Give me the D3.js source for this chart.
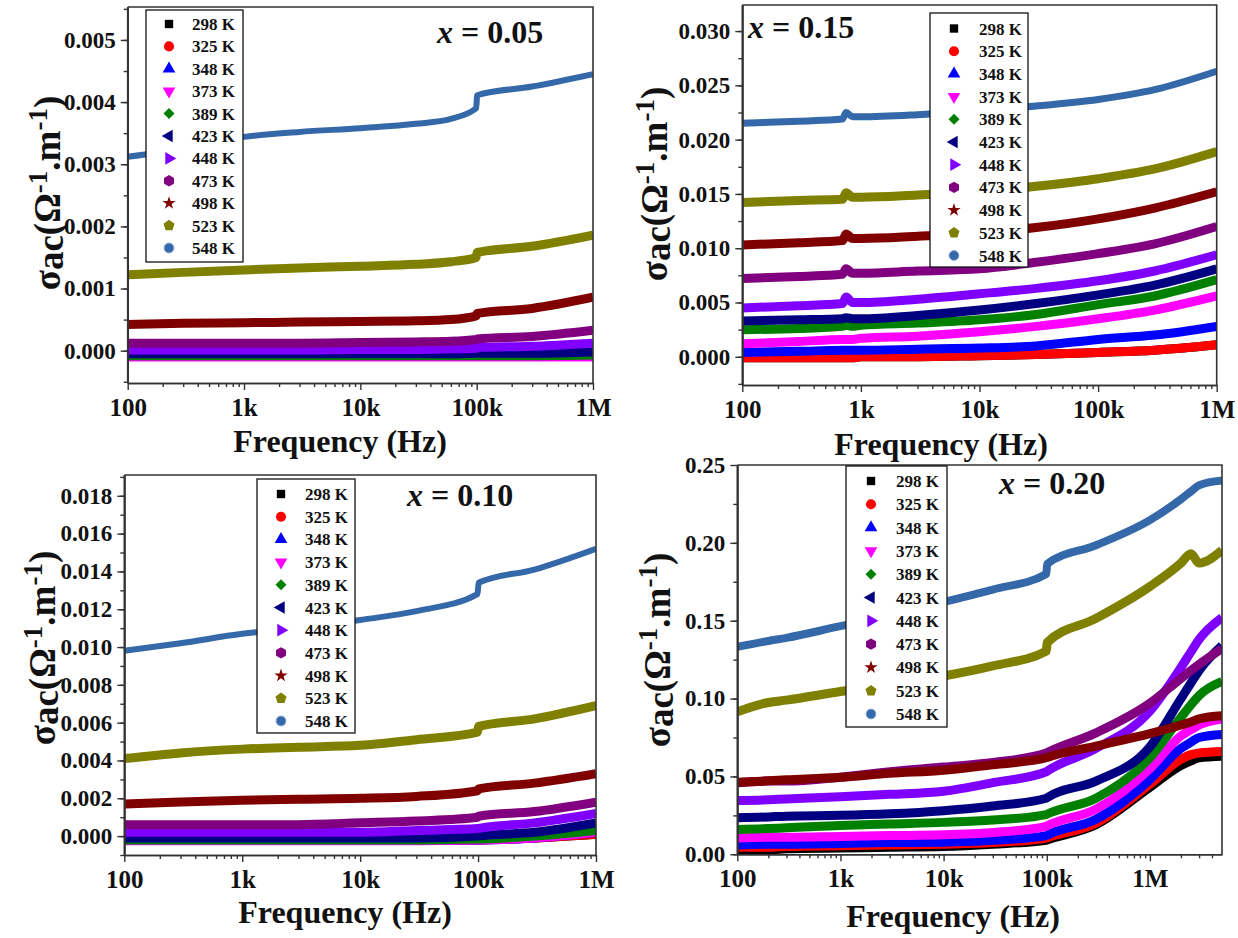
<!DOCTYPE html>
<html><head><meta charset="utf-8">
<script src="https://cdn.jsdelivr.net/npm/d3@7"></script>
<style>
body{margin:0;background:#fff;}
svg{display:block;}
text{font-family:"Liberation Serif","Times New Roman",serif;font-weight:bold;fill:#111;}
</style>
</head><body>
<svg id="c" width="1238" height="938"></svg>
<script>
// ---------- data ----------
const temps = ["298 K","325 K","348 K","373 K","389 K","423 K","448 K","473 K","498 K","523 K","548 K"];
const colors = ["#000000","#ff0000","#0000ff","#ff00ff","#008000","#000080","#8000ff","#800080","#800000","#808000","#3468a8"];
const xTickVals = [1e2,1e3,1e4,1e5,1e6];
const xTickLabels = ["100","1k","10k","100k","1M"];
const yTicksA = [0,0.001,0.002,0.003,0.004,0.005];
const yTicksB = [0,0.005,0.010,0.015,0.020,0.025,0.030];
const yTicksC = [0,0.002,0.004,0.006,0.008,0.010,0.012,0.014,0.016,0.018];
const yTicksD = [0,0.05,0.10,0.15,0.20,0.25];

// x = 0.05
const freqA = [100,300,1000,3000,10000,30000,60000,99000,101000,300000,1000000];
const sigmaA = [
  [-0.00009,-0.00009,-0.00009,-0.00009,-0.00009,-0.00009,-0.00009,-0.00009,-0.00009,-0.00009,-0.00009],
  [-0.00009,-0.00009,-0.00009,-0.00009,-0.00009,-0.00009,-0.00009,-0.00009,-0.00009,-0.00009,-0.00009],
  [-0.00009,-0.00009,-0.00009,-0.00009,-0.00009,-0.00009,-0.00009,-0.00009,-0.00009,-0.00009,-0.00009],
  [-0.0001,-0.0001,-0.0001,-0.0001,-0.0001,-0.0001,-0.0001,-0.0001,-0.0001,-0.0001,-0.0001],
  [-0.00008,-0.00008,-0.00008,-0.00008,-0.00008,-0.00008,-0.00008,-0.00008,-0.00008,-0.00008,-0.00007],
  [-0.00005,-0.00005,-0.00005,-0.00005,-0.00005,-0.00005,-0.00005,-0.00004,-0.00004,-0.00004,-0.00002],
  [0.00001,0.00001,0.00001,0.00001,0.00002,0.00002,0.00003,0.00004,0.00005,0.00007,0.00012],
  [0.00012,0.00012,0.00012,0.00012,0.00013,0.00014,0.00015,0.00018,0.00019,0.00023,0.00033],
  [0.00042,0.00044,0.00045,0.00046,0.00047,0.00048,0.0005,0.00056,0.0006,0.00068,0.00086],
  [0.00122,0.00126,0.0013,0.00133,0.00136,0.00139,0.00143,0.0015,0.00158,0.00168,0.00186],
  [0.00312,0.00325,0.00344,0.00352,0.00358,0.00365,0.00373,0.0039,0.00411,0.00425,0.00445]
];

// x = 0.15
const freqB = [100,300,700,750,850,1000,3000,10000,30000,100000,300000,1000000];
const sigmaB = [
  [-0.0001,-0.0001,-0.0001,-0.0001,-0.0001,0.0,0.0,0.0001,0.0002,0.0004,0.0006,0.0011],
  [-0.0001,-0.0001,-0.0001,-0.0001,-0.0001,0.0,0.0,0.0001,0.0002,0.0004,0.0006,0.0011],
  [0.0004,0.0005,0.0006,0.0006,0.0006,0.0006,0.0007,0.0008,0.0010,0.0016,0.0020,0.0028],
  [0.0012,0.0014,0.0016,0.0016,0.0016,0.0017,0.0019,0.0023,0.0028,0.0035,0.0043,0.0056],
  [0.0025,0.0026,0.0028,0.0029,0.0028,0.0029,0.0031,0.0034,0.0039,0.0048,0.0056,0.0071],
  [0.0033,0.0034,0.0035,0.0036,0.0035,0.0035,0.0038,0.0043,0.0049,0.0057,0.0066,0.0081],
  [0.0045,0.0047,0.0049,0.0055,0.0050,0.0050,0.0053,0.0058,0.0063,0.0070,0.0079,0.0094],
  [0.0072,0.0074,0.0076,0.0081,0.0077,0.0077,0.0079,0.0081,0.0087,0.0095,0.0104,0.0120],
  [0.0103,0.0105,0.0107,0.0113,0.0109,0.0109,0.0111,0.0114,0.0119,0.0127,0.0137,0.0152],
  [0.0142,0.0144,0.0145,0.0151,0.0147,0.0147,0.0149,0.0152,0.0157,0.0164,0.0173,0.0189],
  [0.0215,0.0217,0.0219,0.0225,0.0221,0.0221,0.0223,0.0227,0.0231,0.0237,0.0246,0.0263]
];

// x = 0.10
const freqC = [100,300,1000,3000,10000,30000,99000,101000,300000,1000000];
const sigmaC = [
  [-0.0002,-0.0002,-0.0002,-0.0002,-0.0002,-0.0002,-0.0002,-0.0002,-0.0001,0.0001],
  [-0.0002,-0.0002,-0.0002,-0.0002,-0.0002,-0.0002,-0.0002,-0.0002,-0.0001,0.0001],
  [-0.0002,-0.0002,-0.0002,-0.0002,-0.0002,-0.0002,-0.0002,-0.0002,-0.0001,0.0002],
  [-0.00025,-0.00025,-0.00025,-0.00025,-0.00025,-0.00025,-0.0002,-0.0002,-0.0001,0.0002],
  [-0.0002,-0.0002,-0.0002,-0.0002,-0.0002,-0.0002,-0.00015,-0.00015,0.0,0.0003],
  [-0.0001,-0.0001,-0.0001,-0.0001,-0.0001,-0.0001,0.0,0.00001,0.0002,0.0007],
  [0.0002,0.0002,0.0002,0.0002,0.0002,0.0003,0.0004,0.00041,0.0007,0.0012],
  [0.0006,0.0006,0.0006,0.0006,0.0007,0.0008,0.0010,0.00105,0.0013,0.0018],
  [0.0017,0.0018,0.0019,0.00195,0.0020,0.0021,0.0024,0.0025,0.0028,0.0033],
  [0.0041,0.0044,0.0046,0.0047,0.0048,0.0051,0.0055,0.0058,0.0062,0.0069],
  [0.0098,0.0102,0.0107,0.0110,0.01143,0.0119,0.0128,0.0134,0.0141,0.0152]
];

// x = 0.20
const freqD = [100,200,300,1000,3000,10000,30000,99000,101000,300000,1000000,2000000,2500000,3000000,5000000];
const sigmaD = [
  [0.003,0.003,0.0035,0.004,0.0045,0.005,0.0065,0.009,0.0092,0.019,0.043,0.057,0.060,0.062,0.063],
  [0.0045,0.0045,0.005,0.0055,0.006,0.0065,0.0075,0.0105,0.0107,0.020,0.045,0.061,0.064,0.065,0.066],
  [0.006,0.0065,0.0065,0.007,0.0075,0.0078,0.009,0.012,0.0123,0.0225,0.048,0.068,0.072,0.075,0.077],
  [0.0105,0.011,0.011,0.0115,0.012,0.0125,0.014,0.018,0.0183,0.029,0.055,0.076,0.080,0.083,0.087],
  [0.016,0.0165,0.017,0.0185,0.0195,0.0205,0.022,0.0255,0.0258,0.036,0.062,0.088,0.096,0.102,0.111],
  [0.0235,0.024,0.0245,0.025,0.026,0.028,0.031,0.036,0.0364,0.047,0.069,0.100,0.110,0.118,0.134],
  [0.0345,0.035,0.0355,0.037,0.0385,0.0405,0.046,0.053,0.0534,0.068,0.092,0.120,0.130,0.138,0.152],
  [0.046,0.047,0.047,0.0495,0.053,0.056,0.059,0.065,0.0653,0.078,0.097,0.113,0.118,0.122,0.132],
  [0.0462,0.0472,0.0478,0.0495,0.052,0.054,0.0575,0.062,0.0622,0.0695,0.0775,0.083,0.085,0.087,0.089],
  [0.0915,0.0975,0.099,0.1045,0.109,0.1145,0.121,0.1305,0.136,0.1515,0.172,0.187,0.193,0.187,0.1953],
  [0.1332,0.137,0.139,0.1465,0.153,0.162,0.170,0.180,0.1865,0.1985,0.2146,0.228,0.233,0.237,0.240]
];

// ---------- symbols ----------
function polygon(n, rot){
  return {draw(ctx, size){
    const r = Math.sqrt(size / (n/2*Math.sin(2*Math.PI/n)));
    for(let i=0;i<n;i++){
      const a = rot + i*2*Math.PI/n;
      const x = r*Math.cos(a), y = r*Math.sin(a);
      if(i===0) ctx.moveTo(x,y); else ctx.lineTo(x,y);
    }
    ctx.closePath();
  }};
}
const symDefs = [
  {t:d3.symbolSquare, r:0, s:70},
  {t:d3.symbolCircle, r:0, s:80},
  {t:d3.symbolTriangle, r:0, s:70},
  {t:d3.symbolTriangle, r:180, s:70},
  {t:d3.symbolSquare, r:45, s:60},
  {t:d3.symbolTriangle, r:-90, s:70},
  {t:d3.symbolTriangle, r:90, s:70},
  {t:polygon(6, Math.PI/6), r:0, s:85},
  {t:d3.symbolStar, r:0, s:55},
  {t:polygon(5, -Math.PI/2), r:0, s:80},
  {t:d3.symbolCircle, r:0, s:75}
];

const svg = d3.select("#c");

const panels = [
  {id:"A", freq:freqA, data:sigmaA, left:127.7, right:593, top:7, bottom:383, xMax:1e6,
   yDomain:[-0.00052,0.00553], yTicks:yTicksA, yMinorStep:0.0005, fmt:d3.format(".3f"),
   label:"0.05", labelX:437, labelY:43, titleX:340, titleY:452, yTitleX:60, yTitleY:193,
   legend:{x:146,y:10,w:97,h:252,symX:169,textX:192,row0:24,dy:22.4}, sw:9, swTop:6},
  {id:"B", freq:freqB, data:sigmaB, left:742.3, right:1216.7, top:5, bottom:385, xMax:1e6,
   yDomain:[-0.0026,0.0324], yTicks:yTicksB, yMinorStep:0.0025, fmt:d3.format(".3f"),
   label:"0.15", labelX:748, labelY:38, titleX:941, titleY:455, yTitleX:667, yTitleY:184,
   legend:{x:930,y:13,w:98,h:254,symX:954,textX:979,row0:28.5,dy:22.7}, sw:9, swTop:7},
  {id:"C", freq:freqC, data:sigmaC, left:124.3, right:596, top:475, bottom:855, xMax:1e6,
   yDomain:[-0.001,0.0191], yTicks:yTicksC, yMinorStep:0.001, fmt:d3.format(".3f"),
   label:"0.10", labelX:407, labelY:506, titleX:345, titleY:923, yTitleX:55, yTitleY:648,
   legend:{x:257,y:479,w:98,h:254,symX:281,textX:305,row0:494,dy:22.7}, sw:9, swTop:6},
  {id:"D", freq:freqD, data:sigmaD, left:737.3, right:1222, top:465, bottom:854.3, xMax:5e6,
   yDomain:[0,0.25], yTicks:yTicksD, yMinorStep:0.025, fmt:d3.format(".2f"),
   label:"0.20", labelX:999, labelY:494, titleX:953, titleY:927, yTitleX:670, yTitleY:650,
   legend:{x:846,y:466,w:101,h:261,symX:871,textX:896,row0:481,dy:23.3}, sw:9, swTop:8}
];

panels.forEach(p => {
  const g = svg.append("g");
  const x = d3.scaleLog().domain([100, p.xMax]).range([p.left, p.right]);
  const y = d3.scaleLinear().domain(p.yDomain).range([p.bottom, p.top]);

  svg.append("clipPath").attr("id","clip"+p.id).append("rect")
    .attr("x",p.left).attr("y",p.top).attr("width",p.right-p.left).attr("height",p.bottom-p.top);

  const line = d3.line().x((d,i)=>x(p.freq[i])).y(d=>y(d)).curve(d3.curveMonotoneX);
  const sg = g.append("g").attr("clip-path","url(#clip"+p.id+")");
  p.data.forEach((vals,k)=>{
    sg.append("path").attr("d", line(vals)).attr("fill","none")
      .attr("stroke", colors[k]).attr("stroke-width", k===10 ? p.swTop : p.sw)
      .attr("stroke-linejoin","round").attr("stroke-linecap","butt");
  });

  const minorX = [];
  for(let e=2;e<=6;e++) for(let m=2;m<=9;m++){ const v=m*Math.pow(10,e); if(v<p.xMax) minorX.push(v); }
  const ax = g.append("g").attr("transform",`translate(0,${p.bottom})`)
    .call(d3.axisBottom(x).tickValues(xTickVals).tickFormat((d,i)=>xTickLabels[i]).tickSize(7).tickSizeOuter(0).tickPadding(8));
  const axm = g.append("g").attr("transform",`translate(0,${p.bottom})`)
    .call(d3.axisBottom(x).tickValues(minorX).tickFormat("").tickSize(4).tickSizeOuter(0));
  const minorY = d3.range(p.yTicks[0]-p.yMinorStep*2, p.yDomain[1], p.yMinorStep)
    .filter(v=>v>=p.yDomain[0]-1e-9 && v<=p.yDomain[1]+1e-9);
  const ay = g.append("g").attr("transform",`translate(${p.left},0)`)
    .call(d3.axisLeft(y).tickValues(p.yTicks).tickFormat(p.fmt).tickSize(7).tickSizeOuter(0).tickPadding(5));
  const aym = g.append("g").attr("transform",`translate(${p.left},0)`)
    .call(d3.axisLeft(y).tickValues(minorY).tickFormat("").tickSize(4).tickSizeOuter(0));
  [ax,axm,ay,aym].forEach(a=>{
    a.select(".domain").attr("stroke","#333").attr("stroke-width",1.6);
    a.selectAll(".tick line").attr("stroke","#333").attr("stroke-width",1.4);
    a.selectAll("text").attr("fill","#111").style("font-family","'Liberation Serif','Times New Roman',serif").style("font-weight","bold");
  });
  ax.selectAll("text").style("font-size","25px");
  ay.selectAll("text").style("font-size","23px");

  g.append("path").attr("d",`M${p.left},${p.top}H${p.right}V${p.bottom}`)
    .attr("fill","none").attr("stroke","#333").attr("stroke-width",1.6);
  g.append("line").attr("x1",p.left).attr("x2",p.left).attr("y1",p.top).attr("y2",p.bottom)
    .attr("stroke","#333").attr("stroke-width",1.6);

  g.append("text").attr("x",p.titleX).attr("y",p.titleY).attr("text-anchor","middle")
    .style("font-size","32px").text("Frequency (Hz)");
  const yt = g.append("text").attr("transform",`translate(${p.yTitleX},${p.yTitleY}) rotate(-90)`)
    .attr("text-anchor","middle").style("font-size","37px");
  yt.append("tspan").text("σ");
  yt.append("tspan").attr("dy",3).text("ac");
  yt.append("tspan").attr("dy",-3).text("(Ω");
  yt.append("tspan").attr("dy",-13).style("font-size","27px").text("-1");
  yt.append("tspan").attr("dy",13).text(".m");
  yt.append("tspan").attr("dy",-13).style("font-size","27px").text("-1");
  yt.append("tspan").attr("dy",13).text(")");

  const lt = g.append("text").attr("x",p.labelX).attr("y",p.labelY).style("font-size","32px");
  lt.append("tspan").style("font-style","italic").text("x");
  lt.append("tspan").text(" = " + p.label);

  const L = p.legend;
  g.append("rect").attr("x",L.x).attr("y",L.y).attr("width",L.w).attr("height",L.h)
    .attr("fill","#fff").attr("stroke","#111").attr("stroke-width",1.3);
  temps.forEach((t,k)=>{
    const cy = L.row0 + k*L.dy;
    const s = symDefs[k];
    g.append("path").attr("d", d3.symbol().type(s.t).size(s.s)())
      .attr("transform",`translate(${L.symX},${cy}) rotate(${s.r})`)
      .attr("fill", colors[k]).attr("stroke", k===10 ? "#7fa6d6" : "none").attr("stroke-width",1);
    g.append("text").attr("x",L.textX).attr("y",cy+6).style("font-size","17px").text(t);
  });
});
</script>
</body></html>
